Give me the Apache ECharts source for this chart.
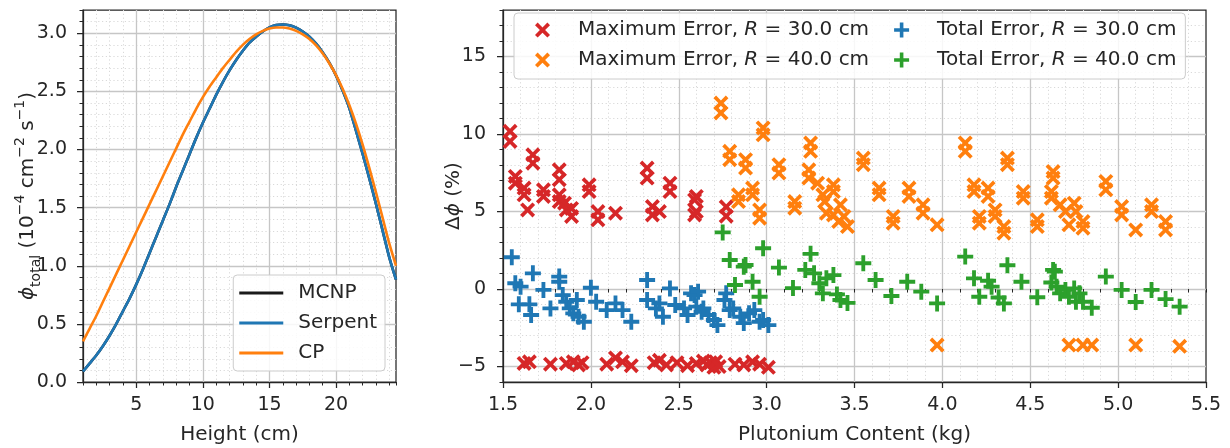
<!DOCTYPE html>
<html><head><meta charset="utf-8">
<script src="https://cdn.jsdelivr.net/npm/echarts@6/dist/echarts.min.js"></script>
<style>html,body{margin:0;padding:0;background:#fff}#c{width:1230px;height:448px}</style>
</head><body><div id="c"></div>
<script>
// ---- Left panel: flux profile ----
const heights = [1,1.5,2,2.5,3,3.5,4,4.5,5,5.5,6,6.5,7,7.5,8,8.5,9,9.5,10,10.5,11,11.5,12,12.5,13,13.5,14,14.5,15,15.5,16,16.5,17,17.5,18,18.5,19,19.5,20,20.5,21,21.5,22,22.5,23,23.5,24,24.5];
const mcnp    = [0.09,0.16,0.23,0.31,0.40,0.50,0.61,0.72,0.84,0.97,1.11,1.25,1.39,1.53,1.68,1.82,1.96,2.10,2.23,2.35,2.47,2.58,2.68,2.77,2.85,2.92,2.97,3.015,3.05,3.07,3.075,3.068,3.048,3.015,2.97,2.91,2.835,2.745,2.635,2.505,2.355,2.16,1.96,1.75,1.53,1.30,1.07,0.88];
const serpent = [0.09,0.16,0.23,0.31,0.40,0.50,0.61,0.72,0.84,0.97,1.11,1.25,1.39,1.53,1.68,1.82,1.96,2.10,2.23,2.35,2.47,2.58,2.68,2.77,2.85,2.92,2.97,3.015,3.05,3.07,3.075,3.068,3.048,3.015,2.97,2.91,2.835,2.745,2.635,2.505,2.355,2.16,1.96,1.75,1.53,1.30,1.07,0.88];
const cp      = [0.35,0.46,0.57,0.69,0.81,0.93,1.05,1.17,1.29,1.41,1.53,1.65,1.77,1.89,2.01,2.13,2.24,2.35,2.45,2.54,2.62,2.70,2.77,2.84,2.90,2.95,2.99,3.02,3.04,3.05,3.05,3.04,3.02,2.99,2.95,2.895,2.825,2.74,2.64,2.52,2.38,2.22,2.04,1.84,1.63,1.41,1.19,1.00];
const leftXTicks = [5,10,15,20];
const leftYTicks = [0,0.5,1,1.5,2,2.5,3];

// ---- Right panel: errors vs plutonium content ----
const max30 = [[1.54,10.17],[1.54,9.52],[1.57,7.26],[1.57,6.83],[1.62,6.51],[1.62,6.08],[1.64,5.10],[1.67,8.66],[1.67,8.12],[1.73,6.40],[1.73,5.97],[1.82,7.69],[1.82,7.05],[1.82,6.08],[1.82,5.64],[1.85,5.54],[1.86,5.10],[1.89,5.20],[1.89,4.68],[1.99,6.72],[1.99,6.29],[2.04,5.00],[2.04,4.46],[2.14,4.89],[2.32,7.80],[2.32,7.16],[2.35,5.32],[2.35,4.78],[2.39,5.00],[2.45,6.83],[2.45,6.29],[2.59,5.75],[2.59,4.78],[2.60,5.97],[2.60,5.00],[2.77,5.30],[2.77,4.70],
  [1.62,-4.80],[1.65,-4.70],[1.77,-4.85],[1.86,-4.80],[1.90,-4.70],[1.93,-4.90],[1.95,-4.75],[2.09,-4.85],[2.14,-4.45],[2.18,-4.70],[2.23,-4.95],[2.36,-4.75],[2.39,-4.60],[2.43,-4.90],[2.49,-4.75],[2.55,-4.95],[2.60,-4.80],[2.64,-4.65],[2.66,-4.90],[2.68,-4.75],[2.70,-5.05],[2.71,-4.70],[2.73,-5.00],[2.82,-4.85],[2.87,-4.90],[2.92,-4.70],[2.96,-4.85],[3.01,-5.05]];
const max40 = [[2.74,12.0],[2.74,11.36],[2.79,8.88],[2.79,8.34],[2.84,6.08],[2.84,5.64],[2.88,8.34],[2.88,7.80],[2.92,6.51],[2.92,6.08],[2.96,5.10],[2.96,4.57],[2.98,10.39],[2.98,9.95],[3.07,8.02],[3.07,7.48],[3.16,5.64],[3.16,5.21],[3.25,9.42],[3.25,8.88],[3.24,7.69],[3.24,7.16],[3.29,6.83],[3.32,6.08],[3.33,5.64],[3.34,4.89],[3.38,6.72],[3.38,6.29],[3.38,4.78],[3.41,4.35],[3.42,5.43],[3.44,4.68],[3.46,4.03],[3.55,8.45],[3.55,8.02],[3.64,6.51],[3.64,6.08],[3.72,4.68],[3.72,4.25],[3.81,6.51],[3.81,5.97],[3.89,5.43],[3.89,4.89],[3.97,4.14],[3.97,-3.62],[4.13,9.42],[4.13,8.88],[4.18,6.72],[4.18,6.29],[4.21,4.68],[4.21,4.25],[4.26,6.51],[4.26,5.97],[4.30,5.10],[4.30,4.68],[4.35,4.03],[4.35,3.60],[4.37,8.45],[4.37,8.02],[4.46,6.29],[4.46,5.86],[4.54,4.46],[4.54,4.03],[4.63,7.58],[4.63,7.16],[4.62,6.29],[4.62,5.86],[4.67,5.43],[4.70,5.00],[4.72,4.14],[4.75,5.54],[4.76,5.00],[4.80,4.35],[4.80,3.92],[4.72,-3.62],[4.80,-3.62],[4.85,-3.62],[4.93,6.94],[4.93,6.40],[5.02,5.32],[5.02,4.78],[5.10,3.81],[5.10,-3.62],[5.19,5.43],[5.19,5.00],[5.27,4.35],[5.27,3.81],[5.35,-3.70]];
const total30 = [[1.55,2.05],[1.57,0.37],[1.60,0.15],[1.59,-0.99],[1.65,-0.99],[1.66,-1.68],[1.67,1.01],[1.73,-0.06],[1.77,-1.25],[1.82,0.80],[1.82,0.47],[1.84,-0.39],[1.86,-0.82],[1.88,-1.25],[1.90,-1.57],[1.92,-0.71],[1.93,-1.79],[1.96,-2.11],[2.00,0.08],[2.03,-0.82],[2.09,-1.36],[2.14,-0.93],[2.18,-1.36],[2.23,-2.11],[2.32,0.58],[2.32,-0.71],[2.37,-1.25],[2.39,-0.93],[2.41,-1.79],[2.45,0.04],[2.48,-1.03],[2.53,-1.25],[2.55,-1.68],[2.57,-0.28],[2.59,-0.39],[2.61,-0.17],[2.60,-1.14],[2.63,-1.47],[2.64,-1.25],[2.67,-1.68],[2.70,-2.00],[2.72,-2.33],[2.76,-0.71],[2.77,-0.28],[2.79,-1.36],[2.81,-1.25],[2.85,-1.79],[2.87,-2.20],[2.90,-1.57],[2.93,-1.36],[2.96,-2.11],[2.98,-2.00],[3.01,-2.33]];
const total40 = [[2.75,3.65],[2.79,1.87],[2.82,0.26],[2.87,1.44],[2.88,1.55],[2.92,0.47],[2.96,-0.50],[2.98,2.63],[3.07,1.38],[3.15,0.06],[3.22,1.23],[3.25,2.27],[3.27,1.01],[3.30,0.37],[3.32,-0.28],[3.34,0.69],[3.38,0.90],[3.40,-0.35],[3.42,-0.71],[3.46,-0.90],[3.55,1.66],[3.62,0.58],[3.71,-0.45],[3.80,0.47],[3.88,-0.17],[3.97,-0.93],[4.13,2.09],[4.18,0.69],[4.21,-0.50],[4.26,0.53],[4.28,0.15],[4.32,-0.55],[4.35,-0.93],[4.37,1.53],[4.45,0.47],[4.54,-0.53],[4.63,1.23],[4.62,0.42],[4.64,1.12],[4.65,0.15],[4.67,-0.28],[4.70,-0.06],[4.72,-0.50],[4.75,0.04],[4.76,-0.82],[4.78,-0.28],[4.80,-0.82],[4.85,-1.21],[4.93,0.80],[5.02,-0.06],[5.10,-0.84],[5.19,-0.06],[5.27,-0.65],[5.35,-1.14]];
const rightXTicks = [1.5,2.0,2.5,3.0,3.5,4.0,4.5,5.0,5.5];
const rightYTicks = [-5,0,5,10,15];

const FONT = 'DejaVu Sans';
const TXT = '#262626';
const SPINE = '#262626';
const MAJ = '#c6c6c6';
const MIN = '#d9d9d9';
const X_SYM = 'path://M0,1.75 L1.75,0 L5,3.25 L8.25,0 L10,1.75 L6.75,5 L10,8.25 L8.25,10 L5,6.75 L1.75,10 L0,8.25 L3.25,5 Z';
const P_SYM = 'path://M3.8,0 L6.2,0 L6.2,3.8 L10,3.8 L10,6.2 L6.2,6.2 L6.2,10 L3.8,10 L3.8,6.2 L0,6.2 L0,3.8 L3.8,3.8 Z';

function minorAxis(gi, min, max, step, pos) {
  return {
    type: 'value', gridIndex: gi, position: pos, min: min, max: max, interval: step,
    axisLine: {show: false},
    axisTick: {show: true, length: 3.5, lineStyle: {color: SPINE, width: 1}},
    axisLabel: {show: false},
    splitLine: {show: true, showMinLine: false, showMaxLine: false,
      lineStyle: {color: MIN, width: 1, type: [1.2, 2.6]}},
    silent: true
  };
}
function majorAxis(gi, min, max, ticks, pos, fmt, extra) {
  return Object.assign({
    type: 'value', gridIndex: gi, position: pos, min: min, max: max,
    axisLine: {show: true, onZero: false, lineStyle: {color: SPINE, width: 1.25}},
    axisTick: {show: true, length: 6, customValues: ticks, lineStyle: {color: SPINE, width: 1.25}},
    axisLabel: {show: true, customValues: ticks, formatter: fmt, color: TXT, fontSize: 19, fontFamily: FONT},
    splitLine: {show: true, lineStyle: {color: MAJ, width: 1.3}},
    nameLocation: 'middle',
    nameMoveOverlap: false,
    nameTextStyle: {color: TXT, fontSize: 20, fontFamily: FONT, lineHeight: 24}
  }, extra);
}
const one = v => v.toFixed(1);
const minus = v => (v < 0 ? '\u2212' + Math.abs(v) : String(v));

function legendFmt(name) {
  const parts = name.split('R');
  return '{a|' + parts[0] + '}{i|R}{a|' + parts[1] + '}' + (name.indexOf('Maximum') === 0 ? '{s| }' : '');
}

const rich = () => ({
  t: {fontSize: 20, fontFamily: FONT, color: TXT, lineHeight: 30, verticalAlign: 'middle'},
  p: {fontSize: 20, fontFamily: FONT, color: TXT, fontStyle: 'italic', lineHeight: 30, verticalAlign: 'middle'},
  d: {fontSize: 20, fontFamily: FONT, color: TXT, lineHeight: 30, verticalAlign: 'middle'},
  sub: {fontSize: 14, fontFamily: FONT, color: TXT, lineHeight: 14, verticalAlign: 'bottom'},
  sup: {fontSize: 14, fontFamily: FONT, color: TXT, lineHeight: 14, verticalAlign: 'top'}
});

const names = {
  m30: 'Maximum Error, R = 30.0 cm', m40: 'Maximum Error, R = 40.0 cm',
  t30: 'Total Error, R = 30.0 cm', t40: 'Total Error, R = 40.0 cm'
};

const option = {
  animation: false,
  backgroundColor: '#ffffff',
  textStyle: {fontFamily: FONT},
  grid: [
    {left: 83, right: 834, top: 10, bottom: 66, show: true, borderColor: SPINE, borderWidth: 1.25, backgroundColor: '#fff', containLabel: false, outerBoundsMode: 'none'},
    {left: 503, right: 24, top: 10, bottom: 66, show: true, borderColor: SPINE, borderWidth: 1.25, backgroundColor: '#fff', containLabel: false, outerBoundsMode: 'none'}
  ],
  xAxis: [
    minorAxis(0, 1, 24.5, 1, 'bottom'),
    majorAxis(0, 1, 24.5, leftXTicks, 'bottom', v => String(v), {name: 'Height (cm)', nameGap: 41, axisLabel: {customValues: leftXTicks, color: TXT, fontSize: 19, fontFamily: FONT, margin: 14}}),
    minorAxis(1, 1.5, 5.5, 0.1, 'bottom'),
    majorAxis(1, 1.5, 5.5, rightXTicks, 'bottom', one, {name: 'Plutonium Content (kg)', nameGap: 41,
      axisLabel: {customValues: rightXTicks, formatter: one, color: TXT, fontSize: 19, fontFamily: FONT, margin: 14},
      splitLine: {show: true, showMinLine: false, showMaxLine: false, lineStyle: {color: MAJ, width: 1.3}}})
  ],
  yAxis: [
    minorAxis(0, 0, 3.2, 0.1, 'left'),
    majorAxis(0, 0, 3.2, leftYTicks, 'left', one, {
      name: '{p|\u03d5}{sub|total}{t| (10}{sup|\u22124}{t| cm}{sup|\u22122}{t| s}{sup|\u22121}{t|)}',
      nameRotate: 90, nameGap: 40, nameTextStyle: {rich: rich()},
      axisLabel: {customValues: leftYTicks, formatter: one, color: TXT, fontSize: 19, fontFamily: FONT, margin: 16},
      splitLine: {show: true, showMinLine: false, lineStyle: {color: MAJ, width: 1.3}}}),
    minorAxis(1, -6, 18, 1, 'left'),
    majorAxis(1, -6, 18, rightYTicks, 'left', minus, {
      name: '{d|\u0394}{p|\u03d5}{t| (%)}', nameRotate: 90, nameGap: 34, nameTextStyle: {rich: rich()},
      axisLabel: {customValues: rightYTicks, formatter: minus, color: TXT, fontSize: 19, fontFamily: FONT, margin: 17}})
  ],
  legend: [
    {
      data: ['MCNP', 'Serpent', 'CP'], orient: 'vertical', right: 845, bottom: 77,
      icon: 'rect', itemWidth: 44, itemHeight: 3, itemGap: 10,
      padding: [8, 8, 8, 6], backgroundColor: 'rgba(255,255,255,0.85)',
      borderColor: '#cccccc', borderWidth: 1, borderRadius: 4,
      textStyle: {color: TXT, fontSize: 20, fontFamily: FONT, lineHeight: 19, padding: [0, 0, 0, 10]}
    },
    {
      data: [names.m30, names.t30, names.m40, names.t40], orient: 'horizontal', left: 514, top: 13, width: 690,
      itemWidth: 15, itemHeight: 15, itemGap: 6,
      padding: [5, 9, 7, 21], backgroundColor: 'rgba(255,255,255,0.85)',
      borderColor: '#cccccc', borderWidth: 1, borderRadius: 4,
      formatter: legendFmt,
      textStyle: {color: TXT, fontSize: 20, fontFamily: FONT, lineHeight: 24, padding: [0, 0, 0, 23],
        rich: {
          a: {fontSize: 20, fontFamily: FONT, color: TXT, lineHeight: 24},
          i: {fontSize: 20, fontFamily: FONT, color: TXT, fontStyle: 'italic', lineHeight: 24},
          s: {fontSize: 20, fontFamily: FONT, color: TXT, width: 19, lineHeight: 24}
        }}
    }
  ],
  series: [
    {name: 'MCNP', type: 'line', xAxisIndex: 1, yAxisIndex: 1, symbol: 'none', smooth: 0.25,
      data: heights.map((h, i) => [h, mcnp[i]]), lineStyle: {color: '#1a1a1a', width: 2.6, join: 'round'}, itemStyle: {color: '#1a1a1a'}},
    {name: 'Serpent', type: 'line', xAxisIndex: 1, yAxisIndex: 1, symbol: 'none', smooth: 0.25,
      data: heights.map((h, i) => [h, serpent[i]]), lineStyle: {color: '#1f77b4', width: 2.6, join: 'round'}, itemStyle: {color: '#1f77b4'}},
    {name: 'CP', type: 'line', xAxisIndex: 1, yAxisIndex: 1, symbol: 'none', smooth: 0.25,
      data: heights.map((h, i) => [h, cp[i]]), lineStyle: {color: '#ff7f0e', width: 2.6, join: 'round'}, itemStyle: {color: '#ff7f0e'}},
    {name: names.m30, type: 'scatter', xAxisIndex: 3, yAxisIndex: 3, symbol: X_SYM, symbolSize: 15,
      data: max30, itemStyle: {color: '#d62728', opacity: 1}},
    {name: names.m40, type: 'scatter', xAxisIndex: 3, yAxisIndex: 3, symbol: X_SYM, symbolSize: 15,
      data: max40, itemStyle: {color: '#ff7f0e', opacity: 1}},
    {name: names.t30, type: 'scatter', xAxisIndex: 3, yAxisIndex: 3, symbol: P_SYM, symbolSize: 16,
      data: total30, itemStyle: {color: '#1f77b4', opacity: 1}},
    {name: names.t40, type: 'scatter', xAxisIndex: 3, yAxisIndex: 3, symbol: P_SYM, symbolSize: 16,
      data: total40, itemStyle: {color: '#2ca02c', opacity: 1}}
  ]
};
const chart = echarts.init(document.getElementById('c'), null, {renderer: 'canvas'});
chart.setOption(option);
</script></body></html>
